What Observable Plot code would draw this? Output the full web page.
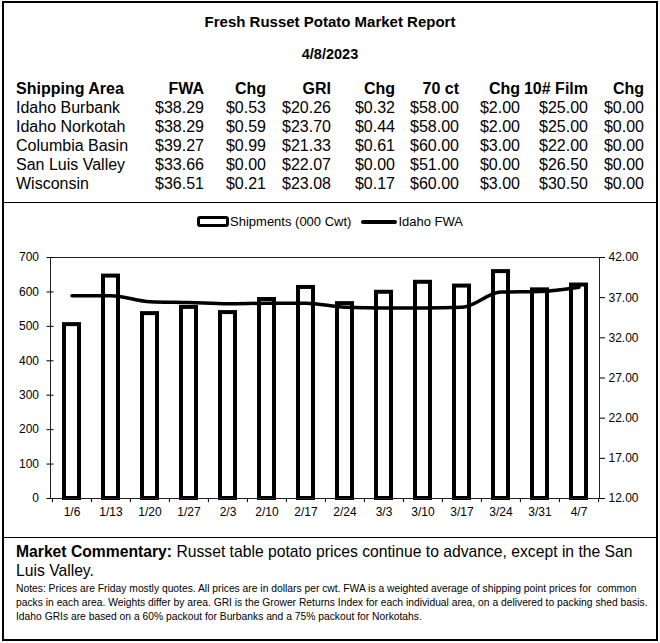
<!DOCTYPE html>
<html><head><meta charset="utf-8">
<script src="https://cdn.jsdelivr.net/npm/d3@7"></script>
<script src="https://cdn.jsdelivr.net/npm/@observablehq/plot@0.6"></script>
<style>
body{margin:0;background:#fff;font-family:"Liberation Sans",Arial,sans-serif;color:#000}
#page{position:relative;width:660px;height:643px;overflow:hidden}
#box{position:absolute;left:2px;top:1px;width:652px;height:636px;border:2px solid #000}
.abs{position:absolute;white-space:nowrap}
.hline{position:absolute;left:4px;width:652px;height:1px;background:#000}
.c{position:absolute;white-space:nowrap;font-size:16px}
.b{font-weight:bold}
#legend{position:absolute;left:0;top:214px;width:660px;font-size:13px;display:flex;justify-content:center;align-items:center}
.sw1{display:inline-block;width:26px;height:5px;border:3.5px solid #000;border-radius:3px;background:#fff;margin-right:1px}
.sw2{display:inline-block;width:36px;height:4px;background:#000;border-radius:2px;margin-right:1px;margin-left:10px}
#chart{position:absolute;left:0;top:236px}
.comm{position:absolute;left:16px;font-size:15.7px;line-height:19px;white-space:nowrap}
#notes{position:absolute;left:16px;top:582px;font-size:10.3px;line-height:14px;white-space:nowrap}
</style></head>
<body><div id="page">
<div id="box"></div>
<div class="abs b" style="left:0;width:660px;text-align:center;top:13px;font-size:15px">Fresh Russet Potato Market Report</div>
<div class="abs b" style="left:0;width:660px;text-align:center;top:46px;font-size:14.5px">4/8/2023</div>
<div id="table"></div>
<div class="hline" style="top:202px"></div>
<div id="legend"><span class="sw1"></span>Shipments (000 Cwt)<span class="sw2"></span>Idaho FWA</div>
<div id="chart"></div>
<div class="hline" style="top:537px"></div>
<div class="comm" style="top:542px"><b>Market Commentary:</b> Russet table potato prices continue to advance, except in the San</div>
<div class="comm" style="top:561px">Luis Valley.</div>
<div id="notes">Notes: Prices are Friday mostly quotes. All prices are in dollars per cwt. FWA is a weighted average of shipping point prices for &nbsp;common<br>packs in each area. Weights differ by area. GRI is the Grower Returns Index for each individual area, on a delivered to packing shed basis.<br>Idaho GRIs are based on a 60% packout for Burbanks and a 75% packout for Norkotahs.</div>
</div>
<script>
// ---- table data ----
const headers = ["Shipping Area","FWA","Chg","GRI","Chg","70 ct","Chg","10# Film","Chg"];
const areas = ["Idaho Burbank","Idaho Norkotah","Columbia Basin","San Luis Valley","Wisconsin"];
const fwa = ["$38.29","$38.29","$39.27","$33.66","$36.51"];
const fwaChg = ["$0.53","$0.59","$0.99","$0.00","$0.21"];
const gri = ["$20.26","$23.70","$21.33","$22.07","$23.08"];
const griChg = ["$0.32","$0.44","$0.61","$0.00","$0.17"];
const ct70 = ["$58.00","$58.00","$60.00","$51.00","$60.00"];
const ct70Chg = ["$2.00","$2.00","$3.00","$0.00","$3.00"];
const film = ["$25.00","$25.00","$22.00","$26.50","$30.50"];
const filmChg = ["$0.00","$0.00","$0.00","$0.00","$0.00"];

// ---- chart data ----
const weeks = ["1/6","1/13","1/20","1/27","2/3","2/10","2/17","2/24","3/3","3/10","3/17","3/24","3/31","4/7"];
const shipments = [505,646,537,555,540,578,613,566,599,628,617,659,606,620];
const idahoFWA = [37.25,37.25,36.5,36.4,36.25,36.3,36.3,35.8,35.7,35.7,35.8,37.7,37.76,38.29];
const leftTicks = [0,100,200,300,400,500,600,700];
const rightTicks = [12,17,22,27,32,37,42];

// table layout
const colRight = [null,204,266,331,395,459,520,588,644];
const rowTop = [80,99,118,137,156,175];
const cols = [areas,fwa,fwaChg,gri,griChg,ct70,ct70Chg,film,filmChg];
const tbl = document.getElementById("table");
function cell(txt, ci, ri, bold){
  const d = document.createElement("div");
  d.className = "c" + (bold ? " b" : "");
  d.textContent = txt;
  d.style.top = rowTop[ri] + "px";
  if (ci === 0) d.style.left = "16px";
  else { d.style.right = (660 - colRight[ci]) + "px"; }
  tbl.appendChild(d);
}
headers.forEach((h,i)=>cell(h,i,0,true));
cols.forEach((col,ci)=>col.forEach((v,ri)=>cell(v,ci,ri+1,false)));

// dual axis mapping (right scale 12..42 onto left scale 0..700)
const toLeft = v => (v - 12) / 30 * 700;
const fromLeft = y => y / 700 * 30 + 12;

const data = weeks.map((w,i)=>({week:w, ship:shipments[i], fwa:idahoFWA[i]}));
const W = 660, mL = 50, mR = 61;
const step = (W - mL - mR) / weeks.length;

const plot = Plot.plot({
  width: W, height: 300,
  marginLeft: mL, marginRight: mR, marginTop: 21, marginBottom: 38,
  style: {fontFamily: "Liberation Sans, Arial, sans-serif", fontSize: "12px", color: "#000", background: "transparent"},
  x: {type: "band", domain: weeks, paddingInner: 0.62, paddingOuter: 0.31, label: null},
  y: {domain: [0, 700], label: null},
  marks: [
    Plot.barY(data, {x: "week", y: "ship", fill: "white", stroke: "black", strokeWidth: 4}),
    Plot.frame({stroke: "#222", strokeWidth: 1}),
    Plot.line(data, {x: "week", y: d => toLeft(d.fwa), stroke: "black", strokeWidth: 3.5, curve: "monotone-x"}),
    Plot.ruleX(weeks, {x: d => d, y1: 0, y2: -12, dx: -step/2, stroke: "black"}),
    Plot.ruleX([weeks[weeks.length-1]], {x: d => d, y1: 0, y2: -12, dx: step/2, stroke: "black"}),
    Plot.axisX({tickSize: 0, tickPadding: 9, label: null}),
    Plot.axisY({ticks: leftTicks, tickSize: 7, dx: 3.5, tickPadding: 8, label: null, tickFormat: d => String(d)}),
    Plot.axisY({anchor: "right", ticks: rightTicks.map(toLeft), tickFormat: d => fromLeft(d).toFixed(2), tickSize: 5, tickPadding: 4, label: null})
  ]
});
document.getElementById("chart").appendChild(plot);
</script>
</body></html>
